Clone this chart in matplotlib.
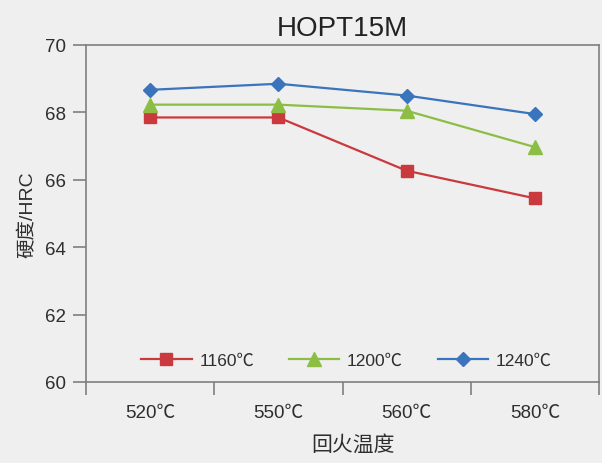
import matplotlib
matplotlib.use("Agg")
import matplotlib.pyplot as plt
import numpy as np

categories = ["520℃", "550℃", "560℃", "580℃"]
series_names = ["1160℃", "1200℃", "1240℃"]
hrc_1160 = [67.85, 67.85, 66.27, 65.45]
hrc_1200 = [68.23, 68.23, 68.05, 66.97]
hrc_1240 = [68.67, 68.85, 68.50, 67.95]
yticks = [60, 62, 64, 66, 68, 70]

FAM = ["Liberation Sans", "Noto Sans CJK SC", "DejaVu Sans"]
plt.rcParams["font.family"] = FAM
bg = "#efefef"
axc = "#7f7f7f"
txt = "#2e2e2e"

fig = plt.figure(figsize=(6.02, 4.64), dpi=100, facecolor=bg)
ax = fig.add_axes([86/602, 1-383/464, (599-86)/602, (383-46)/464], facecolor=bg)

x = np.arange(len(categories))
styles = [
    (hrc_1160, "#c9393d", "s", 9),
    (hrc_1200, "#8cbd44", "^", 9.5),
    (hrc_1240, "#3a74bc", "D", 7.2),
]
for (vals, col, mk, ms), name in zip(styles, series_names):
    ax.plot(x, vals, color=col, lw=1.6, marker=mk, ms=ms, mfc=col, mec=col, label=name)

ax.set_xlim(-0.5, 3.5)
ax.set_ylim(60, 70)
ax.set_yticks(yticks)
ax.set_xticks(np.arange(-0.5, 4, 1.0))
ax.set_xticklabels([])
ax.set_xticks(x, minor=True)
ax.set_xticklabels(categories, minor=True)
ax.tick_params(axis="x", which="minor", length=0, pad=16, labelsize=13.5, labelcolor=txt)
ax.tick_params(axis="x", which="major", length=9, width=1.2, color=axc, direction="out")
ax.tick_params(axis="y", length=9.5, width=1.2, color=axc, direction="out", pad=5,
               labelsize=13.5, labelcolor=txt)
for s in ax.spines.values():
    s.set_color(axc)
    s.set_linewidth(1.2)

ax.set_ylabel("硬度/HRC", fontsize=14, color=txt, labelpad=6)
ax.set_xlabel("回火温度", fontsize=15, color=txt, labelpad=10)
ax.xaxis.set_label_coords(0.52, -0.155)
ax.set_title("HOPT15M", fontsize=20, color="#222222", pad=7)

leg = ax.legend(loc="center", ncol=3, frameon=False,
                fontsize=12.5, handlelength=2.9, handletextpad=0.45, columnspacing=2.0)
leg.set_bbox_to_anchor((0.508, 0.065), transform=ax.transAxes)
for t in leg.get_texts():
    t.set_color(txt)

fig.savefig("out.png", dpi=100, facecolor=bg)
